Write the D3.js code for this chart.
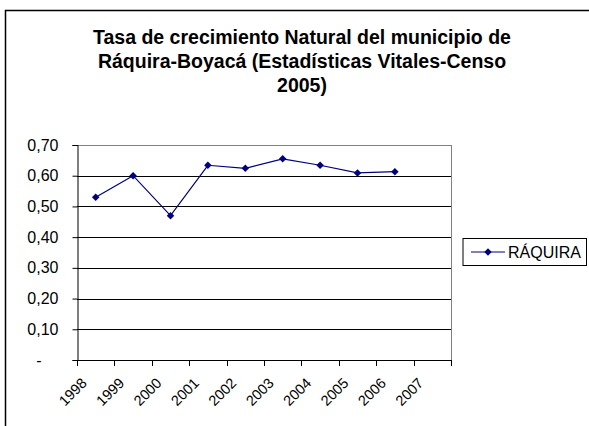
<!DOCTYPE html>
<html>
<head>
<meta charset="utf-8">
<script src="https://cdn.jsdelivr.net/npm/d3@7"></script>
<style>
  body { margin: 0; background: #fff; }
  text { font-family: "Liberation Sans", Arial, sans-serif; }
</style>
</head>
<body>
<div id="chart"></div>
<script>
// datos
const years = ['1998', '1999', '2000', '2001', '2002', '2003', '2004', '2005', '2006', '2007']
const raquira = [0.53, 0.60, 0.47, 0.634, 0.624, 0.655, 0.634, 0.609, 0.613, null]
const yTicks = [0, 0.1, 0.2, 0.3, 0.4, 0.5, 0.6, 0.7]
const titleLines = ['Tasa de crecimiento Natural del municipio de', 'Ráquira-Boyacá (Estadísticas Vitales-Censo', '2005)']
const seriesName = 'RÁQUIRA'

const width = 589, height = 426
const plot = { left: 77, right: 451, top: 145, bottom: 360 }

const svg = d3.select('#chart')
  .append('svg')
  .attr('width', width)
  .attr('height', height)

// marco del grafico (solo se ve arriba e izquierda)
svg.append('path')
  .attr('d', `M5.5,${height} V10.5 H${width}`)
  .attr('fill', 'none')
  .attr('stroke', '#000')
  .attr('stroke-width', 1.5)

// titulo
svg.append('g')
  .selectAll('text')
  .data(titleLines)
  .join('text')
  .attr('x', 302)
  .attr('y', (d, i) => 44 + i * 24)
  .attr('text-anchor', 'middle')
  .style('font-size', '19.5px')
  .style('font-weight', 'bold')
  .text(d => d)

const x = d3.scaleBand().domain(years).range([plot.left, plot.right])
const y = d3.scaleLinear().domain([0, 0.7]).range([plot.bottom, plot.top])

// lineas de cuadricula
svg.append('g')
  .selectAll('line')
  .data(yTicks.filter(d => d > 0))
  .join('line')
  .attr('x1', plot.left)
  .attr('x2', plot.right)
  .attr('y1', d => Math.round(y(d)) + 0.5)
  .attr('y2', d => Math.round(y(d)) + 0.5)
  .attr('stroke', d => d === 0.7 ? '#808080' : '#000')
  .attr('stroke-width', 1)

// borde derecho del area de trazado
svg.append('line')
  .attr('x1', plot.right + 0.5).attr('x2', plot.right + 0.5)
  .attr('y1', plot.top).attr('y2', plot.bottom)
  .attr('stroke', '#808080')

// eje y
const yAxis = svg.append('g')
  .attr('transform', `translate(${plot.left + 0.5},0)`)
  .call(d3.axisLeft(y)
    .tickValues(yTicks)
    .tickSize(5)
    .tickFormat(d => d === 0 ? '-' : d3.format('.2f')(d).replace('.', ',')))
yAxis.select('.domain').attr('stroke', '#000')
yAxis.selectAll('.tick line').attr('stroke', '#000')
yAxis.selectAll('.tick text')
  .style('font-size', '16px')
  .attr('fill', '#000')
  .attr('x', d => d === 0 ? -36 : -19)

// eje x
const xTickPos = years.map(d => x(d)).concat([plot.right])
const xAxisG = svg.append('g')
xAxisG.append('line')
  .attr('x1', plot.left).attr('x2', plot.right)
  .attr('y1', plot.bottom + 0.5).attr('y2', plot.bottom + 0.5)
  .attr('stroke', '#000')
xAxisG.selectAll('line.tick')
  .data(xTickPos)
  .join('line')
  .attr('class', 'tick')
  .attr('x1', d => Math.round(d) + 0.5)
  .attr('x2', d => Math.round(d) + 0.5)
  .attr('y1', plot.bottom)
  .attr('y2', plot.bottom + 6)
  .attr('stroke', '#000')
xAxisG.selectAll('text')
  .data(years)
  .join('text')
  .attr('transform', d => `translate(${x(d) + x.bandwidth() / 2 - 8},${plot.bottom + 24}) rotate(-45)`)
  .attr('text-anchor', 'end')
  .style('font-size', '14.5px')
  .text(d => d)

// serie
const pts = years.map((d, i) => ({ year: d, v: raquira[i] })).filter(d => d.v !== null)
const line = d3.line()
  .x(d => x(d.year) + x.bandwidth() / 2)
  .y(d => y(d.v))
svg.append('path')
  .datum(pts)
  .attr('d', line)
  .attr('fill', 'none')
  .attr('stroke', '#000080')
  .attr('stroke-width', 1.2)

const diamond = d3.symbol().type(d3.symbolDiamond2).size(36)
svg.append('g')
  .selectAll('path')
  .data(pts)
  .join('path')
  .attr('transform', d => `translate(${x(d.year) + x.bandwidth() / 2},${y(d.v)})`)
  .attr('d', diamond)
  .attr('fill', '#000080')

// leyenda
const legend = svg.append('g').attr('transform', 'translate(463,238.5)')
legend.append('rect')
  .attr('width', 123.5)
  .attr('height', 27)
  .attr('fill', '#fff')
  .attr('stroke', '#000')
legend.append('line')
  .attr('x1', 8).attr('x2', 42)
  .attr('y1', 13.5).attr('y2', 13.5)
  .attr('stroke', '#000080')
  .attr('stroke-width', 1.2)
legend.append('path')
  .attr('transform', 'translate(25,13.5)')
  .attr('d', diamond)
  .attr('fill', '#000080')
legend.append('text')
  .attr('x', 45)
  .attr('y', 13.5)
  .attr('dy', '0.36em')
  .style('font-size', '16px')
  .text(seriesName)
</script>
</body>
</html>
